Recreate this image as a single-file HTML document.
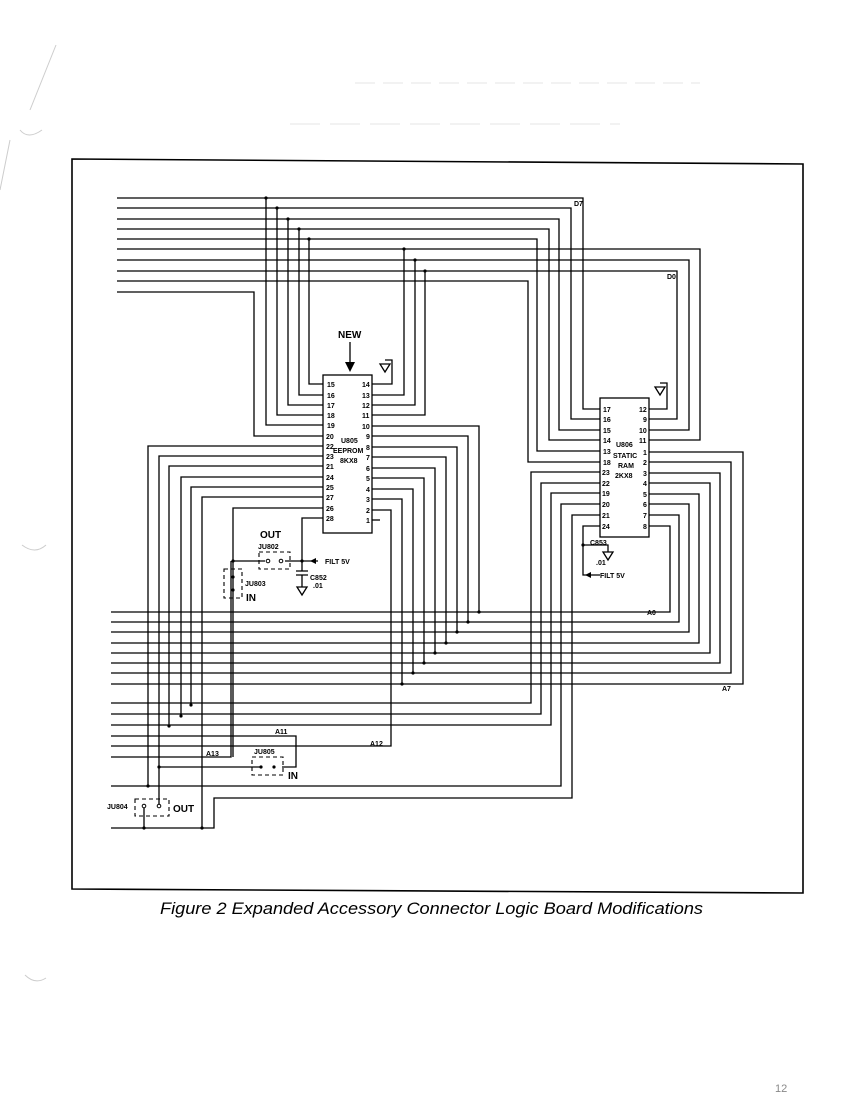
<!DOCTYPE html>
<html><head><meta charset="utf-8"><style>
html,body{margin:0;padding:0;background:#fff;}
svg{display:block}
text{font-family:"Liberation Sans",sans-serif;fill:#000}
.s{font-size:7px;font-weight:bold}
</style></head><body>
<svg width="850" height="1100" viewBox="0 0 850 1100" xmlns="http://www.w3.org/2000/svg">
<g fill="none" stroke="#ccc" stroke-width="1">
<path d="M56 45 L30 110"/><path d="M20 130 Q28 140 42 130"/><path d="M10 140 L0 190"/>
<path d="M22 545 Q35 555 46 545"/><path d="M25 975 Q35 985 46 978"/>
<path d="M355 83 H700" stroke-dasharray="20 8" stroke="#e4e4e4"/><path d="M290 124 H620" stroke-dasharray="30 10" stroke="#e4e4e4"/>
</g>
<g fill="none" stroke="#000" stroke-width="1.3">
<path d="M72 159 L803 164 L803 893 L72 889 Z" stroke-width="1.6"/>
<path d="M117 198 H583 V409 H600"/>
<path d="M117 208 H571 V419 H600"/>
<path d="M117 219 H559 V430 H600"/>
<path d="M117 229 H549 V440 H600"/>
<path d="M117 239 H537 V451 H600"/>
<path d="M117 249 H700 V440 H649"/>
<path d="M117 260 H689 V430 H649"/>
<path d="M117 271 H677 V419 H649"/>
<path d="M117 281 H528 V462 H600"/>
<path d="M117 292 H254 V436 H323"/>
<path d="M266 198 V425 H323"/><path d="M277 208 V415 H323"/><path d="M288 219 V405 H323"/>
<path d="M299 229 V395 H323"/><path d="M309 239 V384 H323"/>
<path d="M372 395 H404 V249"/><path d="M372 405 H415 V260"/><path d="M372 415 H425 V271"/>
<path d="M372 384 H392 V360 H385"/><path d="M380 364 h10 l-5 8 z"/>
<path d="M649 409 H667 V383 H660"/><path d="M655 387 h10 l-5 8 z"/>
<rect x="323" y="375" width="49" height="158"/>
<rect x="600" y="398" width="49" height="139"/>
<path d="M350 342 V370"/>
<path d="M111 612 H670 V526 H649"/>
<path d="M111 622 H679 V515 H649"/>
<path d="M111 632 H689 V504 H649"/>
<path d="M111 643 H699 V494 H649"/>
<path d="M111 653 H710 V483 H649"/>
<path d="M111 663 H720 V473 H649"/>
<path d="M111 673 H731 V462 H649"/>
<path d="M111 684 H743 V452 H649"/>
<path d="M372 426 H479 V612"/><path d="M372 436 H468 V622"/><path d="M372 447 H457 V632"/>
<path d="M372 457 H446 V643"/><path d="M372 468 H435 V653"/><path d="M372 478 H424 V663"/>
<path d="M372 489 H413 V673"/><path d="M372 499 H402 V684"/>
<path d="M372 510 H391 V746 H111"/>
<path d="M372 520 H380"/>
<path d="M111 703 H531 V472 H600"/>
<path d="M111 714 H541 V483 H600"/>
<path d="M111 725 H551 V493 H600"/>
<path d="M111 736 H296 V767 H282"/>
<path d="M111 757 H231 V561"/>
<path d="M111 786 H561 V504 H600"/>
<path d="M111 828 H214 V798 H572 V515 H600"/>
<path d="M600 526 H583 V575 H600"/>
<path d="M583 545 H608 V552"/><path d="M603 552 h10 l-5 8 z"/>
<path d="M323 446 H148 V786"/>
<path d="M323 456 H159 V806"/>
<path d="M323 466 H169 V726"/>
<path d="M323 477 H181 V716"/>
<path d="M323 487 H191 V705"/>
<path d="M323 497 H202 V828"/>
<path d="M323 508 H233 V757"/>
<path d="M323 518 H302 V571"/>
<path d="M296 571 h12 M296 575 h12 M302 575 V587"/><path d="M297 587 h10 l-5 8 z"/>
<path d="M233 561 H265 M285 561 H318"/>
<path d="M158 767 H261 M144 806 V828"/>
</g>
<g fill="none" stroke="#000" stroke-width="1.1" stroke-dasharray="4 3">
<rect x="259" y="552" width="31" height="17"/>
<rect x="224" y="569" width="18" height="29"/>
<rect x="252" y="757" width="31" height="18"/>
<rect x="135" y="799" width="34" height="17"/>
</g>
<g fill="#000">
<path d="M345 362 h10 l-5 10 z"/>
<path d="M316 558 l-6 3 6 3z"/><path d="M591 572 l-6 3 6 3z"/>
<circle cx="266" cy="198" r="1.6"/><circle cx="277" cy="208" r="1.6"/><circle cx="288" cy="219" r="1.6"/>
<circle cx="299" cy="229" r="1.6"/><circle cx="309" cy="239" r="1.6"/>
<circle cx="404" cy="249" r="1.6"/><circle cx="415" cy="260" r="1.6"/><circle cx="425" cy="271" r="1.6"/>
<circle cx="479" cy="612" r="1.6"/><circle cx="468" cy="622" r="1.6"/><circle cx="457" cy="632" r="1.6"/>
<circle cx="446" cy="643" r="1.6"/><circle cx="435" cy="653" r="1.6"/><circle cx="424" cy="663" r="1.6"/>
<circle cx="413" cy="673" r="1.6"/><circle cx="402" cy="684" r="1.6"/>
<circle cx="148" cy="786" r="1.6"/><circle cx="159" cy="767" r="1.6"/><circle cx="169" cy="726" r="1.6"/>
<circle cx="181" cy="716" r="1.6"/><circle cx="191" cy="705" r="1.6"/><circle cx="202" cy="828" r="1.6"/>
<circle cx="144" cy="828" r="1.6"/><circle cx="233" cy="561" r="1.6"/><circle cx="302" cy="561" r="1.6"/>
<circle cx="583" cy="545" r="1.6"/>
<circle cx="233" cy="577" r="1.6"/><circle cx="233" cy="590" r="1.6"/>
<circle cx="261" cy="767" r="1.6"/><circle cx="274" cy="767" r="1.6"/>
</g>
<g fill="#fff" stroke="#000" stroke-width="1">
<circle cx="268" cy="561" r="1.8"/><circle cx="281" cy="561" r="1.8"/>
<circle cx="144" cy="806" r="1.8"/><circle cx="159" cy="806" r="1.8"/>
</g>
<text x="338" y="338" style="font-size:10px;font-weight:bold">NEW</text>
<g class="s">
<text x="327" y="387">15</text><text x="327" y="398">16</text><text x="327" y="408">17</text><text x="327" y="418">18</text><text x="327" y="428">19</text>
<text x="326" y="439">20</text><text x="326" y="449">22</text><text x="326" y="459">23</text><text x="326" y="469">21</text><text x="326" y="480">24</text>
<text x="326" y="490">25</text><text x="326" y="500">27</text><text x="326" y="511">26</text><text x="326" y="521">28</text>
<text x="362" y="387">14</text><text x="362" y="398">13</text><text x="362" y="408">12</text><text x="362" y="418">11</text><text x="362" y="429">10</text>
<text x="366" y="439">9</text><text x="366" y="450">8</text><text x="366" y="460">7</text><text x="366" y="471">6</text><text x="366" y="481">5</text>
<text x="366" y="492">4</text><text x="366" y="502">3</text><text x="366" y="513">2</text><text x="366" y="523">1</text>
<text x="341" y="443">U805</text><text x="333" y="453">EEPROM</text><text x="340" y="463">8KX8</text>
<text x="603" y="412">17</text><text x="603" y="422">16</text><text x="603" y="433">15</text><text x="603" y="443">14</text><text x="603" y="454">13</text>
<text x="603" y="465">18</text><text x="602" y="475">23</text><text x="602" y="486">22</text><text x="602" y="496">19</text><text x="602" y="507">20</text>
<text x="602" y="518">21</text><text x="602" y="529">24</text>
<text x="639" y="412">12</text><text x="643" y="422">9</text><text x="639" y="433">10</text><text x="639" y="443">11</text><text x="643" y="455">1</text>
<text x="643" y="465">2</text><text x="643" y="476">3</text><text x="643" y="486">4</text><text x="643" y="497">5</text><text x="643" y="507">6</text>
<text x="643" y="518">7</text><text x="643" y="529">8</text>
<text x="616" y="447">U806</text><text x="613" y="458">STATIC</text><text x="618" y="468">RAM</text><text x="615" y="478">2KX8</text>
<text x="574" y="206">D7</text><text x="667" y="279">D0</text>
<text x="647" y="615">A0</text><text x="722" y="691">A7</text>
<text x="275" y="734">A11</text><text x="370" y="746">A12</text><text x="206" y="756">A13</text>
<text x="258" y="549">JU802</text><text x="325" y="564">FILT 5V</text>
<text x="310" y="580">C852</text><text x="313" y="588">.01</text><text x="245" y="586">JU803</text>
<text x="590" y="545">C853</text><text x="596" y="565">.01</text><text x="600" y="578">FILT 5V</text>
<text x="254" y="754">JU805</text><text x="107" y="809">JU804</text>
</g>
<text x="260" y="538" style="font-size:10px;font-weight:bold">OUT</text>
<text x="246" y="601" style="font-size:10px;font-weight:bold">IN</text>
<text x="288" y="779" style="font-size:10px;font-weight:bold">IN</text>
<text x="173" y="812" style="font-size:10px;font-weight:bold">OUT</text>
<text x="160" y="914" textLength="543" lengthAdjust="spacingAndGlyphs" style="font-size:17px;font-style:italic">Figure 2  Expanded Accessory Connector Logic Board Modifications</text>
<text x="775" y="1092" style="font-size:11px;fill:#888">12</text>
</svg>
</body></html>
